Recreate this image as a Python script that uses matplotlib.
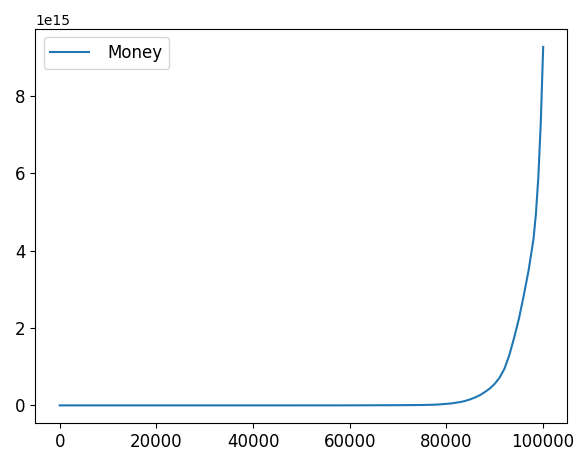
# Money growth over time
import numpy as np
import matplotlib.pyplot as plt

# Values (y in units of 1e15)
steps = [0, 10000, 20000, 30000, 40000, 50000, 60000, 70000, 75000, 78000,
         80000, 81000, 82000, 83000, 84000, 85000, 86000, 87000, 88000, 89000,
         90000, 91000, 92000, 93000, 94000, 95000, 96000, 97000, 98000, 98500,
         99000, 99500, 100000]
money_e15 = [0.0, 0.0, 0.0, 0.0, 0.0, 0.0, 0.001, 0.005, 0.01, 0.02,
             0.04, 0.05, 0.07, 0.09, 0.12, 0.16, 0.21, 0.27, 0.35, 0.44,
             0.56, 0.72, 0.95, 1.3, 1.75, 2.25, 2.85, 3.5, 4.3, 4.95,
             5.9, 7.3, 9.26]

money = np.array(money_e15) * 1e15

fig = plt.figure(figsize=(5.76, 4.51), dpi=100)
ax = fig.add_axes([0.0616, 0.0614, 0.9234, 0.8743])
ax.plot(steps, money, label='Money')
ax.tick_params(labelsize=12)
ax.legend(loc='upper left', fontsize=12, handlelength=2.3, handletextpad=1.1)

fig.savefig('out.png', dpi=100)
